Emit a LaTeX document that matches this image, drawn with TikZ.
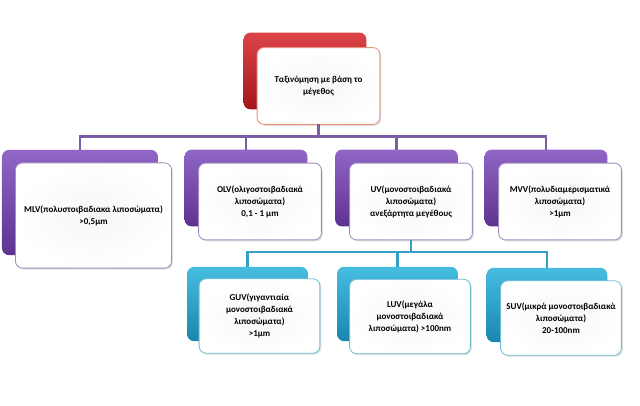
\documentclass[tikz,border=0pt]{standalone}
\usepackage{fontspec}
\setmainfont{Carlito}
\usepackage{tikz}
\usetikzlibrary{shadows}

\definecolor{redtop}{HTML}{DC4448}
\definecolor{redbot}{HTML}{A3161C}
\definecolor{purtop}{HTML}{9066C6}
\definecolor{purbot}{HTML}{5E3290}
\definecolor{cyatop}{HTML}{46BDE0}
\definecolor{cyabot}{HTML}{1A86AE}
\definecolor{purline}{HTML}{7A5EA6}
\definecolor{cyaline}{HTML}{35A0C4}

\begin{document}
\begin{tikzpicture}[x=0.025cm,y=-0.025cm,
  back/.style={rounded corners=5pt,inner sep=0pt,outer sep=0pt},
  front/.style={rounded corners=5pt,inner sep=0pt,outer sep=0pt,line width=0.6pt,
    inner color=gray!7,outer color=white,
    drop shadow={opacity=0.25,shadow xshift=1pt,shadow yshift=-1pt},
    font=\fontsize{6.4}{8.6}\selectfont\bfseries,align=center},
  redbox/.style={back,top color=redtop,bottom color=redbot},
  purbox/.style={back,top color=purtop,bottom color=purbot},
  cyabox/.style={back,top color=cyatop,bottom color=cyabot},
  big/.style={minimum width=3.9cm,minimum height=2.63cm},
  mid/.style={minimum width=3.07cm,minimum height=1.92cm},
  small/.style={minimum width=3.02cm,minimum height=1.86cm},
  purlink/.style={draw=purline,line width=1.6pt},
  cyalink/.style={draw=cyaline,line width=1.6pt}]
\useasboundingbox (0,0) rectangle (640,406);

\node[redbox,mid] (topb) at (305,71) {};
\node[front,mid,draw=red!40!brown!60] (topf) at (318.5,86) {Ταξινόμηση με βάση το\\μέγεθος};

\node[purbox,big] (mlvb) at (80,202.5) {};
\node[purbox,mid] (olvb) at (246,188) {};
\node[purbox,mid] (uvb) at (396.5,188) {};
\node[purbox,mid] (mvvb) at (546,188) {};

\draw[purlink] (topf.south) -- ++(0,12) -| (mlvb.north);
\draw[purlink] (topf.south) -- ++(0,12) -| (olvb.north);
\draw[purlink] (topf.south) -- ++(0,12) -| (uvb.north);
\draw[purlink] (topf.south) -- ++(0,12) -| (mvvb.north);

\node[front,big,draw=purline!70] (mlvf) at (93.5,215.5) {MLV(πολυστοιβαδιακα λιποσώματα)\\>0,5μm};
\node[front,mid,draw=purline!70] (olvf) at (260,201.5) {OLV(ολιγοστοιβαδιακά\\λιποσώματα)\\0,1 - 1 μm};
\node[front,mid,draw=purline!70] (uvf) at (411,201.5) {UV(μονοστοιβαδιακά\\λιποσώματα)\\ανεξάρτητα μεγέθους};
\node[front,mid,draw=purline!70] (mvvf) at (560,201.5) {MVV(πολυδιαμερισματικά\\λιποσώματα)\\>1μm};

\node[cyabox,small] (guvb) at (247.5,304) {};
\node[cyabox,small] (luvb) at (397.5,304) {};
\node[cyabox,small] (suvb) at (547,305) {};

\draw[cyalink] (uvf.south) -- ++(0,12) -| (guvb.north);
\draw[cyalink] (uvf.south) -- ++(0,12) -| (luvb.north);
\draw[cyalink] (uvf.south) -- ++(0,12) -| (suvb.north);

\node[front,small,draw=cyaline!70] (guvf) at (259.5,316) {GUV(γιγαντιαία\\μονοστοιβαδιακά\\λιποσώματα)\\>1μm};
\node[front,small,draw=cyaline!70] (luvf) at (410,316.5) {LUV(μεγάλα\\μονοστοιβαδιακά\\λιποσώματα) >100nm};
\node[front,small,draw=cyaline!70] (suvf) at (561,318) {SUV(μικρά μονοστοιβαδιακά\\λιποσώματα)\\20-100nm};
\end{tikzpicture}
\end{document}
